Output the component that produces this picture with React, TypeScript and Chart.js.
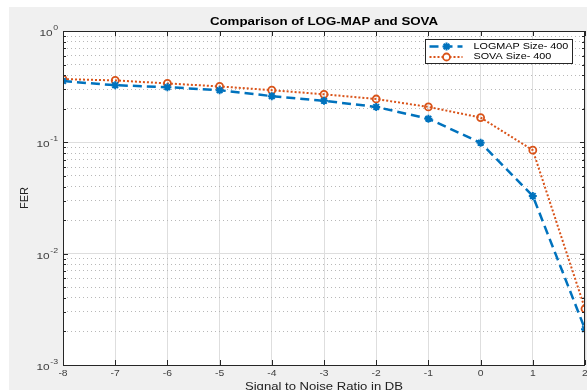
import React, { useEffect, useRef } from "react";
import { Chart, registerables } from "chart.js";

Chart.register(...registerables);

const snr = [-8, -7, -6, -5, -4, -3, -2, -1, 0, 1, 2];
const logmap = [0.355, 0.326, 0.313, 0.294, 0.26, 0.236, 0.208, 0.163, 0.099, 0.033, 0.0021];
const sova = [0.37, 0.36, 0.338, 0.318, 0.294, 0.27, 0.245, 0.208, 0.167, 0.085, 0.0032];
const yDecades = [0.001, 0.01, 0.1, 1];
const yExponents = ["-3", "-2", "-1", "0"];
const minorMultipliers = [2, 3, 4, 5, 6, 7, 8, 9];
const titleText = "Comparison of LOG-MAP and SOVA";
const xTitle = "Signal to Noise Ratio in DB";
const yTitle = "FER";
const legendLabels = ["LOGMAP Size- 400", "SOVA Size- 400"];

const BLUE = "#0072BD";
const ORANGE = "#D95319";
const AXIS = "#262626";
const FONT = "'Liberation Sans', Arial, Helvetica, sans-serif";

const isDecade = (v: number) => {
  const l = Math.log10(v);
  return Math.abs(l - Math.round(l)) < 1e-9;
};

function stretchText(
  ctx: CanvasRenderingContext2D,
  text: string,
  x: number,
  y: number,
  sx: number,
  align: CanvasTextAlign,
  baseline: CanvasTextBaseline
) {
  ctx.save();
  ctx.translate(x, y);
  ctx.scale(sx, 1);
  ctx.textAlign = align;
  ctx.textBaseline = baseline;
  ctx.fillText(text, 0, 0);
  ctx.restore();
}

const decorPlugin = {
  id: "decor",
  afterDraw(chart: any) {
    const ctx = chart.ctx as CanvasRenderingContext2D;
    const { left, right, top, bottom } = chart.chartArea;
    const xs = chart.scales.x;
    const ys = chart.scales.y;
    ctx.save();
    // box
    ctx.strokeStyle = AXIS;
    ctx.lineWidth = 1;
    ctx.setLineDash([]);
    ctx.strokeRect(Math.round(left) + 0.5, Math.round(top) + 0.5, Math.round(right - left) - 1, Math.round(bottom - top));
    // inward ticks
    ctx.beginPath();
    xs.ticks.forEach((t: any) => {
      const px = Math.round(xs.getPixelForValue(t.value)) + 0.5;
      ctx.moveTo(px, bottom);
      ctx.lineTo(px, bottom - 5);
      ctx.moveTo(px, top);
      ctx.lineTo(px, top + 5);
    });
    ys.ticks.forEach((t: any) => {
      const py = Math.round(ys.getPixelForValue(t.value)) + 0.5;
      const len = isDecade(t.value) ? 5 : 3;
      ctx.moveTo(left, py);
      ctx.lineTo(left + len, py);
      ctx.moveTo(right, py);
      ctx.lineTo(right - len, py);
    });
    ctx.stroke();
    // x tick labels
    ctx.fillStyle = "#404040";
    ctx.font = `9px ${FONT}`;
    xs.ticks.forEach((t: any) => {
      const px = xs.getPixelForValue(t.value);
      stretchText(ctx, String(t.value), px, bottom + 8.5, 1.15, "center", "middle");
    });
    // y labels with superscripts
    yDecades.forEach((v, i) => {
      const py = ys.getPixelForValue(v);
      const exp = yExponents[i];
      ctx.font = `7px ${FONT}`;
      const ew = ctx.measureText(exp).width * 1.25;
      const ex = left - 5 - ew;
      stretchText(ctx, exp, ex, py - 3, 1.25, "left", "middle");
      ctx.font = `9.5px ${FONT}`;
      stretchText(ctx, "10", ex - 0.5, py + 2.5, 1.25, "right", "middle");
    });
    // title
    ctx.fillStyle = "#000";
    ctx.font = `bold 11px ${FONT}`;
    stretchText(ctx, titleText, (left + right) / 2, top - 5.7, 1.21, "center", "alphabetic");
    // x title
    ctx.fillStyle = "#222";
    ctx.font = `11.5px ${FONT}`;
    stretchText(ctx, xTitle, (left + right) / 2, bottom + 25, 1.14, "center", "alphabetic");
    // legend
    const bw = 147;
    const bh = 24;
    const bx = Math.round(right - 13 - bw) + 0.5;
    const by = Math.round(top + 8) + 0.5;
    ctx.fillStyle = "#fff";
    ctx.fillRect(bx, by, bw, bh);
    ctx.strokeStyle = AXIS;
    ctx.lineWidth = 1;
    ctx.strokeRect(bx, by, bw, bh);
    const rows = [by + 7, by + 17.5];
    // row 1
    ctx.strokeStyle = BLUE;
    ctx.lineWidth = 2.5;
    ctx.setLineDash([9, 5]);
    ctx.beginPath();
    ctx.moveTo(bx + 4, rows[0]);
    ctx.lineTo(bx + 37, rows[0]);
    ctx.stroke();
    ctx.setLineDash([]);
    ctx.lineWidth = 2;
    const mx = bx + 21;
    const r = 4;
    ctx.beginPath();
    ctx.moveTo(mx - r, rows[0]);
    ctx.lineTo(mx + r, rows[0]);
    ctx.moveTo(mx, rows[0] - r);
    ctx.lineTo(mx, rows[0] + r);
    const d = r * 0.7071;
    ctx.moveTo(mx - d, rows[0] - d);
    ctx.lineTo(mx + d, rows[0] + d);
    ctx.moveTo(mx - d, rows[0] + d);
    ctx.lineTo(mx + d, rows[0] - d);
    ctx.stroke();
    // row 2
    ctx.strokeStyle = ORANGE;
    ctx.lineWidth = 2;
    ctx.setLineDash([2, 2]);
    ctx.beginPath();
    ctx.moveTo(bx + 4, rows[1]);
    ctx.lineTo(bx + 37, rows[1]);
    ctx.stroke();
    ctx.setLineDash([]);
    ctx.lineWidth = 1.8;
    ctx.beginPath();
    ctx.arc(mx, rows[1], 3.5, 0, Math.PI * 2);
    ctx.fillStyle = "#fff";
    ctx.fill();
    ctx.stroke();
    ctx.fillStyle = "#000";
    ctx.font = `9px ${FONT}`;
    stretchText(ctx, legendLabels[0], bx + 48, rows[0], 1.2, "left", "middle");
    stretchText(ctx, legendLabels[1], bx + 48, rows[1], 1.2, "left", "middle");
    ctx.restore();
  },
};

export default function App() {
  const ref = useRef<HTMLCanvasElement | null>(null);
  useEffect(() => {
    document.body.style.margin = "0";
    const canvas = ref.current!;
    const yTicks: number[] = [];
    yDecades.forEach((dv) => {
      yTicks.push(dv);
      if (dv < 1) minorMultipliers.forEach((m) => yTicks.push(dv * m));
    });
    const chart = new Chart(canvas, {
      type: "line",
      data: {
        datasets: [
          {
            label: legendLabels[0],
            data: snr.map((x, i) => ({ x, y: logmap[i] })),
            borderColor: BLUE,
            backgroundColor: BLUE,
            borderWidth: 2.5,
            borderDash: [9, 5],
            pointStyle: "star",
            pointRadius: 4,
            pointBorderWidth: 2,
            pointBorderColor: BLUE,
            tension: 0,
            fill: false,
          },
          {
            label: legendLabels[1],
            data: snr.map((x, i) => ({ x, y: sova[i] })),
            borderColor: ORANGE,
            backgroundColor: "rgba(255,255,255,0)",
            borderWidth: 2,
            borderDash: [2, 2],
            pointStyle: "circle",
            pointRadius: 3.5,
            pointBorderWidth: 1.8,
            pointBorderColor: ORANGE,
            pointBackgroundColor: "rgba(255,255,255,0)",
            tension: 0,
            fill: false,
          },
        ],
      },
      options: {
        responsive: false,
        animation: false,
        devicePixelRatio: 1,
        layout: { padding: { top: 24, right: 1, left: 0, bottom: 0 } },
        plugins: {
          legend: { display: false },
          title: { display: false },
          tooltip: { enabled: false },
        },
        scales: {
          x: {
            type: "linear",
            min: -8,
            max: 2,
            afterFit: (s: any) => {
              s.height = 25;
            },
            ticks: { stepSize: 1, autoSkip: false, display: false },
            grid: { color: "#dedede", lineWidth: 1, drawTicks: false },
            border: { display: false },
            title: { display: false },
          },
          y: {
            type: "logarithmic",
            min: 0.001,
            max: 1,
            afterFit: (s: any) => {
              s.width = 54;
            },
            afterBuildTicks: (s: any) => {
              s.ticks = yTicks.map((v) => ({ value: v }));
            },
            ticks: { display: false, autoSkip: false },
            grid: {
              drawTicks: false,
              lineWidth: 1,
              color: (c: any) => (c.tick && !isDecade(c.tick.value) ? "#b8b8b8" : "#dedede"),
            },
            border: {
              display: false,
              dash: (c: any) => (c.tick && !isDecade(c.tick.value) ? [1, 3] : []),
            } as any,
            title: {
              display: true,
              text: yTitle,
              color: "#222",
              font: { size: 11, family: FONT },
              padding: { top: 9, bottom: 0 },
            },
          },
        },
      } as any,
      plugins: [
        {
          id: "bg",
          beforeDraw(chart: any) {
            const { left, right, top, bottom } = chart.chartArea;
            chart.ctx.save();
            chart.ctx.fillStyle = "#fff";
            chart.ctx.fillRect(left, top, right - left, bottom - top);
            chart.ctx.restore();
          },
        },
        decorPlugin,
      ],
    });
    return () => chart.destroy();
  }, []);
  return (
    <div style={{ position: "relative", width: 587, height: 390, background: "#fff", overflow: "hidden" }}>
      <canvas
        ref={ref}
        width={582}
        height={383}
        style={{ position: "absolute", left: 9, top: 7, width: 582, height: 383, background: "#f0f0f0" }}
      />
    </div>
  );
}
